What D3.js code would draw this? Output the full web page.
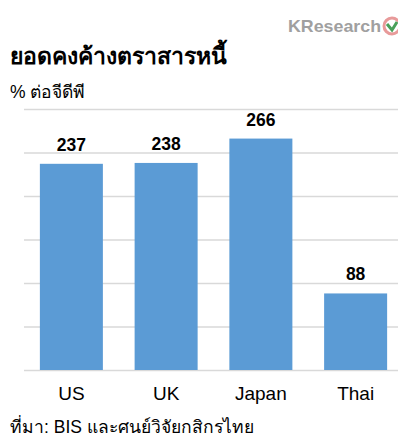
<!DOCTYPE html>
<html>
<head>
<meta charset="utf-8">
<script src="https://cdn.jsdelivr.net/npm/d3@7"></script>
<style>
  body { margin: 0; background: #fff; }
  svg { display: block; font-family: "Liberation Sans", Arial, sans-serif; }
</style>
</head>
<body>
<svg width="398" height="444"></svg>
<script>
const svg = d3.select('svg');

// data
const countries = ['US', 'UK', 'Japan', 'Thai'];
const debtToGdp = [237, 238, 266, 88];
const yTicks = [0, 50, 100, 150, 200, 250, 300];

const title = 'ยอดคงค้างตราสารหนี้';
const unit = '% ต่อจีดีพี';
const source = 'ที่มา: BIS และศนย์วิจัยกสิกรไทย';

const margin = { top: 109, left: 24, bottom: 74 };
const plotBottom = 444 - margin.bottom;

const x = d3.scaleBand()
  .domain(countries)
  .range([margin.left, 403])
  .paddingInner(0.335)
  .paddingOuter(0.1675);

const y = d3.scaleLinear()
  .domain([0, 300])
  .range([plotBottom, margin.top]);

// gridlines
svg.append('g')
  .selectAll('line')
  .data(yTicks)
  .join('line')
    .attr('x1', margin.left)
    .attr('x2', 398)
    .attr('y1', d => y(d) + 0.5)
    .attr('y2', d => y(d) + 0.5)
    .attr('stroke', '#d9d9d9')
    .attr('stroke-width', 1.5);

// bars
const rows = countries.map((c, i) => ({ c, v: debtToGdp[i] }));

svg.append('g')
  .selectAll('rect')
  .data(rows)
  .join('rect')
    .attr('x', d => x(d.c))
    .attr('y', d => y(d.v))
    .attr('width', x.bandwidth())
    .attr('height', d => plotBottom - y(d.v))
    .attr('fill', '#5b9bd5');

// value labels
svg.append('g')
  .selectAll('text')
  .data(rows)
  .join('text')
    .attr('x', d => x(d.c) + x.bandwidth() / 2)
    .attr('y', d => y(d.v) - 13)
    .attr('text-anchor', 'middle')
    .attr('font-weight', 'bold')
    .attr('font-size', 17.5)
    .attr('fill', '#000')
    .text(d => d.v);

// x axis
const xAxis = d3.axisBottom(x).tickSize(0).tickPadding(17);
svg.append('g')
  .attr('transform', `translate(0,${plotBottom})`)
  .call(xAxis)
  .call(g => g.select('.domain').remove())
  .selectAll('text')
    .attr('font-size', 19)
    .attr('font-family', '"Liberation Sans", Arial, sans-serif')
    .attr('fill', '#000');

// title and notes
svg.append('text')
  .attr('x', 10).attr('y', 64)
  .attr('font-weight', 'bold')
  .attr('font-size', 23)
  .text(title);

svg.append('text')
  .attr('x', 10).attr('y', 98)
  .attr('font-size', 17.5)
  .text(unit);

svg.append('text')
  .attr('x', 10).attr('y', 433)
  .attr('font-size', 17.5)
  .text(source);

// logo
const logo = svg.append('g');
logo.append('text')
  .attr('x', 288).attr('y', 32)
  .attr('font-size', 17)
  .attr('font-weight', 'bold')
  .attr('fill', '#a0a0a0')
  .attr('textLength', 93)
  .attr('lengthAdjust', 'spacingAndGlyphs')
  .text('KResearch');
logo.append('circle')
  .attr('cx', 392).attr('cy', 26).attr('r', 8)
  .attr('fill', '#fff')
  .attr('stroke', '#e89a9a')
  .attr('stroke-width', 3);
logo.append('path')
  .attr('d', 'M387,24 L392,30 L397,22')
  .attr('fill', 'none')
  .attr('stroke', '#4aa05a')
  .attr('stroke-width', 3);
</script>
</body>
</html>
